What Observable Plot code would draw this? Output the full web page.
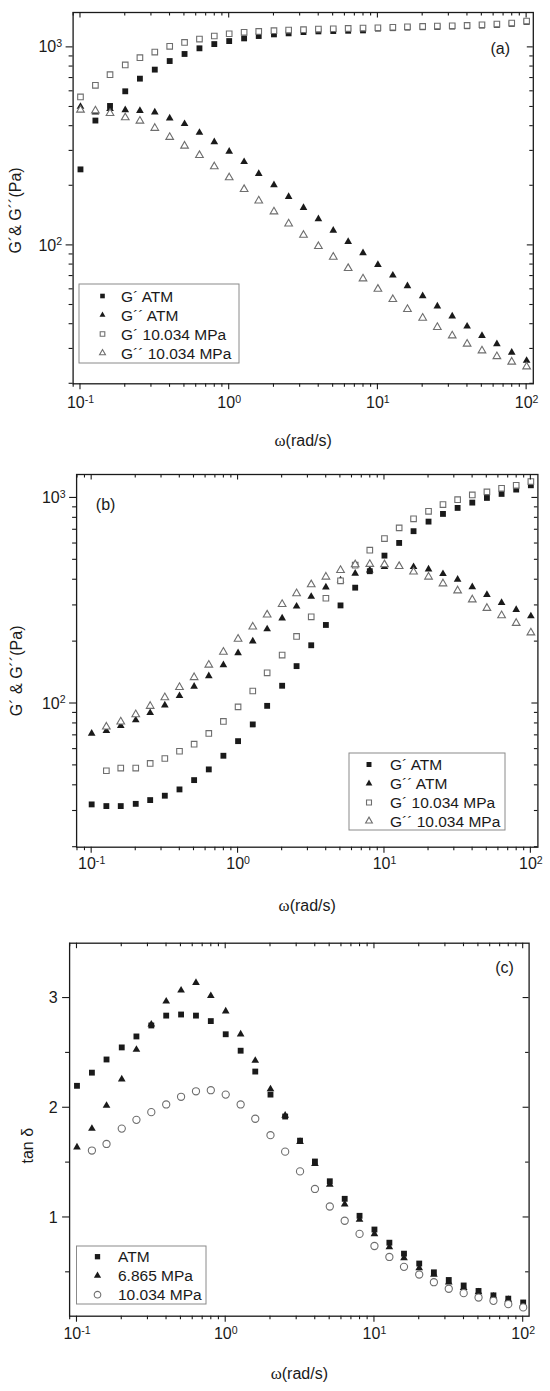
<!DOCTYPE html>
<html>
<head>
<meta charset="utf-8">
<script src="https://cdn.jsdelivr.net/npm/d3@7"></script>
<script src="https://cdn.jsdelivr.net/npm/@observablehq/plot@0.6"></script>
<style>
html,body{margin:0;padding:0;background:#fff;}
#wrap{position:relative;width:550px;height:1391px;overflow:hidden;background:#fff;}
#wrap svg{position:absolute;left:0;}
</style>
</head>
<body>
<div id="wrap"></div>
<script>
// ---------- data ----------
const omega = [0.1, 0.126, 0.158, 0.2, 0.251, 0.316, 0.398, 0.501, 0.631, 0.794,
  1, 1.26, 1.58, 2, 2.51, 3.16, 3.98, 5.01, 6.31, 7.94,
  10, 12.6, 15.8, 20, 25.1, 31.6, 39.8, 50.1, 63.1, 79.4, 100];
const omegaFrom2nd = omega.slice(1);

// panel (a)
const aGpATM   = [242, 427, 506, 600, 695, 772, 853, 926, 989, 1039, 1076, 1110, 1141, 1163, 1177, 1195, 1204, 1209, 1213, 1218, 1244, 1250, 1259, 1264, 1269, 1274, 1279, 1289, 1299, 1315, 1345];
const aGppATM  = [502, 470, 489, 483, 479, 470, 439, 411, 371, 333, 298, 264, 230, 202, 176, 155, 136, 119, 104.4, 91.5, 79.9, 70.6, 62.4, 55.5, 49.3, 43.9, 39.0, 35.0, 31.8, 28.8, 26.2];
const aGpHP    = [562, 643, 728, 815, 887, 947, 1012, 1059, 1101, 1141, 1172, 1191, 1204, 1214, 1223, 1228, 1237, 1242, 1247, 1252, 1256, 1262, 1271, 1276, 1281, 1286, 1291, 1301, 1311, 1327, 1358];
const aGppHP   = [483, 479, 465, 442, 425, 391, 352, 318, 285, 250, 220, 192, 168, 148, 128.6, 112.7, 98.9, 87.4, 76.6, 67.9, 60.2, 53.4, 47.6, 43.0, 38.6, 35.0, 31.8, 29.4, 27.5, 25.8, 24.4];

// panel (b)
const bGpATM   = [32.3, 31.7, 31.7, 32.5, 33.9, 35.6, 38.2, 42.4, 47.8, 55.7, 65.6, 79.1, 97.4, 122, 152, 192, 241, 300, 366, 440, 524, 604, 689, 767, 836, 894, 949, 1000, 1046, 1098, 1152];
const bGppATM  = [71.5, 73.6, 77.9, 83.0, 90.1, 98.1, 109, 121, 136, 154, 176, 201, 230, 260, 297, 331, 368, 398, 429, 445, 462, 465, 462, 450, 427, 401, 369, 338, 309, 286, 266];
const bGpHP    = [47.1, 48.5, 48.5, 51.1, 54.0, 58.6, 63.4, 71.5, 81.8, 96.3, 115, 141, 172, 212, 264, 325, 395, 471, 557, 634, 715, 791, 861, 928, 981, 1034, 1070, 1114, 1152, 1201];
const bGppHP   = [77.0, 81.5, 88.4, 97.1, 107, 120, 134, 154, 178, 206, 236, 270, 304, 343, 379, 413, 445, 474, 476, 474, 465, 437, 413, 383, 354, 320, 291, 268, 246, 221];

// panel (c)
const cTanATM  = [2.20, 2.32, 2.44, 2.55, 2.65, 2.75, 2.84, 2.85, 2.84, 2.79, 2.67, 2.52, 2.33, 2.12, 1.92, 1.70, 1.51, 1.33, 1.17, 1.015, 0.89, 0.77, 0.67, 0.58, 0.50, 0.43, 0.38, 0.33, 0.29, 0.26, 0.225];
const cTan6865 = [1.64, 1.81, 2.02, 2.26, 2.53, 2.76, 2.97, 3.07, 3.14, 3.02, 2.88, 2.67, 2.43, 2.17, 1.93, 1.69, 1.49, 1.30, 1.12, 0.98, 0.85, 0.73, 0.63, 0.54, 0.48, 0.41, 0.36, 0.32, 0.28, 0.25, 0.21];
const cTanHP   = [1.61, 1.67, 1.81, 1.89, 1.96, 2.03, 2.10, 2.15, 2.16, 2.12, 2.03, 1.90, 1.75, 1.60, 1.42, 1.26, 1.10, 0.97, 0.85, 0.74, 0.64, 0.55, 0.48, 0.41, 0.35, 0.31, 0.27, 0.24, 0.21, 0.18];

// ticks & labels
const xMajor = [0.1, 1, 10, 100];
const xMinor = [0.08, 0.09, 0.2, 0.3, 0.4, 0.5, 0.6, 0.7, 0.8, 0.9, 2, 3, 4, 5, 6, 7, 8, 9, 20, 30, 40, 50, 60, 70, 80, 90];
const gMajor = [100, 1000];
const gMinor = [20, 30, 40, 50, 60, 70, 80, 90, 200, 300, 400, 500, 600, 700, 800, 900];
const tMajor = [1, 2, 3];
const tMinor = [0.5, 1.5, 2.5];
const legendAB = ["G´ ATM", "G´´ ATM", "G´ 10.034 MPa", "G´´ 10.034 MPa"];
const legendC = ["ATM", "6.865 MPa", "10.034 MPa"];

// ---------- helpers ----------
const FONT = "'Liberation Sans', Arial, Helvetica, sans-serif";
const INK = "#1a1a1a";
const GREY = "#6e6e6e";
const rows = (xs, ys) => xs.map((x, i) => ({x, y: ys[i]}));

function dotMark(s) {
  const base = {x: "x", y: "y", symbol: s.symbol, r: s.r};
  return s.filled
    ? Plot.dot(s.data, {...base, fill: INK, stroke: "none"})
    : Plot.dot(s.data, {...base, fill: "white", stroke: GREY, strokeWidth: 1.1});
}

function textMark(str, opts) {
  return Plot.text([str], {text: d => d, textAnchor: "middle", lineAnchor: "middle", fill: INK, ...opts});
}

function postProcess(svg) {
  d3.select(svg).selectAll("text").each(function () {
    const t = this.textContent;
    const m = /^10\^(-?\d+)$/.exec(t);
    const sel = d3.select(this);
    if (m) {
      sel.text(null);
      sel.append("tspan").text("10");
      sel.append("tspan").attr("dy", "-0.5em").attr("font-size", "0.66em").text(m[1]);
    } else if (t.startsWith("ω")) {
      sel.text(null);
      sel.append("tspan").attr("font-family", "'Liberation Serif', 'DejaVu Serif', serif").attr("font-size", "1.05em").text("ω");
      sel.append("tspan").text(t.slice(1));
    }
  });
}

// tick marks drawn with the plot's own scales: left/bottom outward, top/right inward
function drawTicks(svg, p) {
  const sx = svg.scale("x"), sy = svg.scale("y");
  const L = p.m[3], R = 550 - p.m[1], T = p.m[0], B = p.height - p.m[2];
  const g = d3.select(svg).append("g").attr("stroke", INK).attr("stroke-width", 1.1).attr("fill", "none");
  const inX = v => { const px = sx.apply(v); return px >= L - 0.5 && px <= R + 0.5 ? px : null; };
  const inY = v => { const py = sy.apply(v); return py >= T - 0.5 && py <= B + 0.5 ? py : null; };
  const seg = (x1, y1, x2, y2) => g.append("line").attr("x1", x1).attr("y1", y1).attr("x2", x2).attr("y2", y2);
  [[xMajor, 6, 5.5], [xMinor, 3.5, 3.5]].forEach(([vals, out, inn]) => vals.forEach(v => {
    const px = inX(v); if (px == null) return;
    seg(px, B, px, B + out);
    seg(px, T, px, T + inn);
  }));
  [[p.yMajor, 7, 6], [p.yMinor, 4, 3.5]].forEach(([vals, out, inn]) => vals.forEach(v => {
    const py = inY(v); if (py == null) return;
    seg(L - out, py, L, py);
    seg(R - inn, py, R, py);
  }));
}

function drawLegend(svg, L) {
  const g = d3.select(svg).append("g").attr("font-family", FONT).attr("font-size", 15.5).attr("text-anchor", "start");
  g.append("rect").attr("x", L.box[0]).attr("y", L.box[1])
    .attr("width", L.box[2] - L.box[0]).attr("height", L.box[3] - L.box[1])
    .attr("fill", "white").attr("stroke", "#8a8a8a").attr("stroke-width", 1);
  const types = {square: d3.symbolSquare, triangle: d3.symbolTriangle, circle: d3.symbolCircle};
  L.items.forEach((it, i) => {
    const y = L.ys[i];
    g.append("path")
      .attr("d", d3.symbol(types[it.symbol], Math.PI * it.r * it.r)())
      .attr("transform", `translate(${L.mx},${y})`)
      .attr("fill", it.filled ? INK : "white")
      .attr("stroke", it.filled ? "none" : GREY)
      .attr("stroke-width", 1.1);
    g.append("text").attr("x", L.tx).attr("y", y).attr("dy", "0.36em").attr("fill", INK).text(it.label);
  });
}

function panel(p) {
  const xd = p.xDomain, yd = p.yDomain;
  const marks = [
    ...p.series.map(dotMark),
    Plot.axisX({anchor: "bottom", ticks: xMajor, tickSize: 0, tickPadding: p.xPad,
      tickFormat: d => "10^" + Math.round(Math.log10(d)), fontSize: 16, label: null}),
    Plot.axisY({anchor: "left", ticks: p.yMajor, tickSize: 0, tickPadding: p.yPad,
      tickFormat: p.yFormat, fontSize: 16, label: null}),
    Plot.frame({stroke: INK, strokeWidth: 1.3}),
    textMark("ω(rad/s)", {frameAnchor: "bottom", dx: p.xTitle[0], dy: p.xTitle[1], fontSize: 16}),
    textMark(p.yTitle, {frameAnchor: "left", dx: p.yTitlePos[0], dy: p.yTitlePos[1], rotate: -90, fontSize: 16}),
    textMark(p.tag, {frameAnchor: p.tagAnchor, dx: p.tagPos[0], dy: p.tagPos[1], fontSize: 16})
  ];
  const svg = Plot.plot({
    width: 550, height: p.height,
    marginTop: p.m[0], marginRight: p.m[1], marginBottom: p.m[2], marginLeft: p.m[3],
    x: {type: "log", domain: xd},
    y: {type: p.yType, domain: yd},
    style: {fontFamily: FONT, fontSize: "16px", color: INK, background: "white", overflow: "visible"},
    marks
  });
  postProcess(svg);
  drawTicks(svg, p);
  drawLegend(svg, p.legend);
  svg.style.top = p.top + "px";
  return svg;
}

const expFmt = d => "10^" + Math.round(Math.log10(d));
const wrap = document.getElementById("wrap");
const SQ = 3.3, TRI = 2.85, CIR = 3.6;

wrap.appendChild(panel({
  top: 0, height: 460, m: [12, 17.2, 76.7, 72.6],
  xDomain: [0.0892, 110.9], yDomain: [20, 1500], yType: "log",
  yMajor: gMajor, yMinor: gMinor, yFormat: expFmt, xPad: 13, yPad: 11,
  series: [
    {data: rows(omega, aGpATM), symbol: "square", r: SQ, filled: true},
    {data: rows(omega, aGppATM), symbol: "triangle", r: TRI, filled: true},
    {data: rows(omega, aGpHP), symbol: "square", r: SQ - 0.15, filled: false},
    {data: rows(omega, aGppHP), symbol: "triangle", r: TRI, filled: false}
  ],
  xTitle: [0, 56.7], yTitle: "G´& G´´(Pa)", yTitlePos: [-57, 12.3],
  tag: "(a)", tagAnchor: "top-right", tagPos: [-33, 36],
  legend: {box: [79, 284, 239, 363], ys: [296, 315, 334, 353], mx: 102.5, tx: 121,
    items: [
      {label: legendAB[0], symbol: "square", r: 2.6, filled: true},
      {label: legendAB[1], symbol: "triangle", r: 2.2, filled: true},
      {label: legendAB[2], symbol: "square", r: 2.6, filled: false},
      {label: legendAB[3], symbol: "triangle", r: 2.2, filled: false}
    ]}
}));

wrap.appendChild(panel({
  top: 460, height: 460, m: [14, 12.6, 73.3, 76.1],
  xDomain: [0.0789, 111.7], yDomain: [20, 1300], yType: "log",
  yMajor: gMajor, yMinor: gMinor, yFormat: expFmt, xPad: 10.5, yPad: 11,
  series: [
    {data: rows(omega, bGpATM), symbol: "square", r: SQ, filled: true},
    {data: rows(omega, bGppATM), symbol: "triangle", r: TRI, filled: true},
    {data: rows(omegaFrom2nd, bGpHP), symbol: "square", r: SQ - 0.15, filled: false},
    {data: rows(omegaFrom2nd, bGppHP), symbol: "triangle", r: TRI, filled: false}
  ],
  xTitle: [0, 58.3], yTitle: "G´ & G´´(Pa)", yTitlePos: [-60, 10],
  tag: "(b)", tagAnchor: "top-left", tagPos: [29, 30],
  legend: {box: [349, 293, 505, 370], ys: [304.5, 323.5, 342.5, 361], mx: 369, tx: 390,
    items: [
      {label: legendAB[0], symbol: "square", r: 2.8, filled: true},
      {label: legendAB[1], symbol: "triangle", r: 2.5, filled: true},
      {label: legendAB[2], symbol: "square", r: 2.8, filled: false},
      {label: legendAB[3], symbol: "triangle", r: 2.5, filled: false}
    ]}
}));

wrap.appendChild(panel({
  top: 920, height: 471, m: [22.7, 21.4, 75.3, 69.1],
  xDomain: [0.0892, 109.6], yDomain: [0.1, 3.5], yType: "linear",
  yMajor: tMajor, yMinor: tMinor, yFormat: d => String(d), xPad: 11.5, yPad: 12,
  series: [
    {data: rows(omega, cTanATM), symbol: "square", r: SQ, filled: true},
    {data: rows(omega, cTan6865), symbol: "triangle", r: TRI, filled: true},
    {data: rows(omegaFrom2nd, cTanHP), symbol: "circle", r: CIR, filled: false}
  ],
  xTitle: [0, 57.6], yTitle: "tan δ", yTitlePos: [-42, 16],
  tag: "(c)", tagAnchor: "top-right", tagPos: [-24.6, 24.7],
  legend: {box: [76.5, 326, 206, 384], ys: [336.7, 355.7, 374.7], mx: 97.5, tx: 118,
    items: [
      {label: legendC[0], symbol: "square", r: 3.0, filled: true},
      {label: legendC[1], symbol: "triangle", r: 2.7, filled: true},
      {label: legendC[2], symbol: "circle", r: 3.3, filled: false}
    ]}
}));
</script>
</body>
</html>
